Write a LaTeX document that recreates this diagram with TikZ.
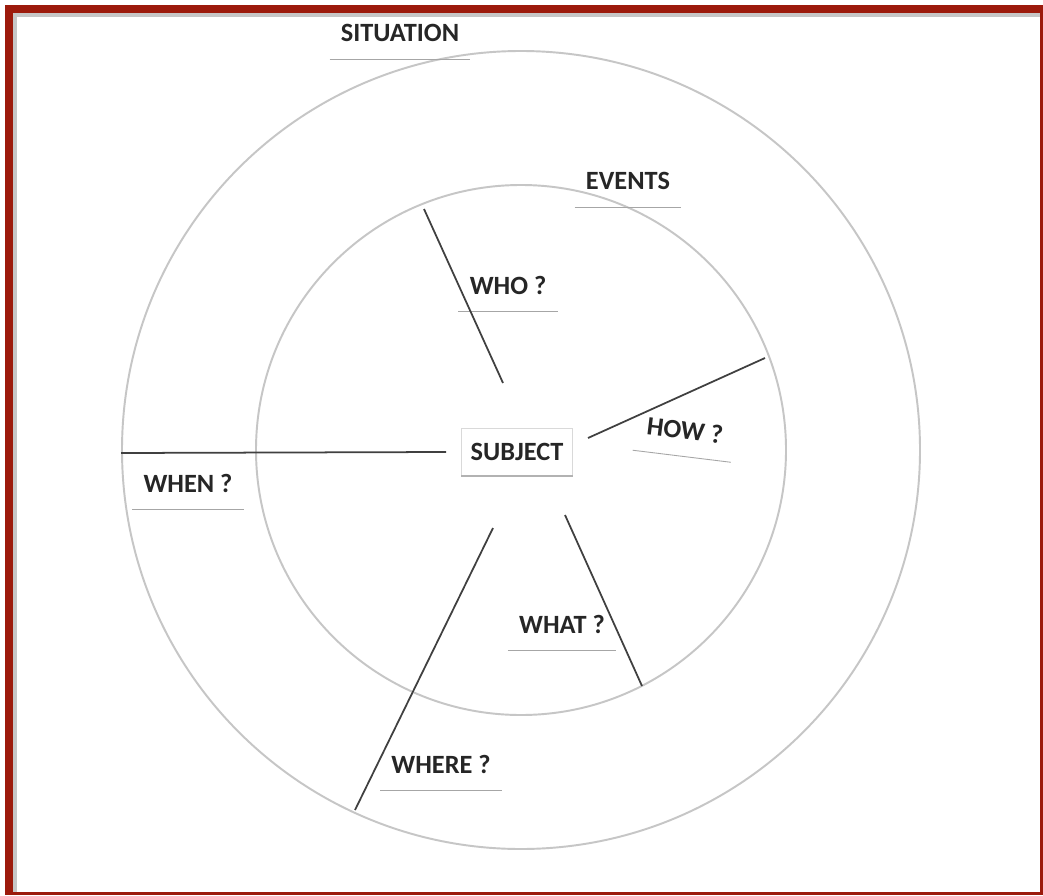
\documentclass[tikz,border=0pt]{standalone}
\usepackage{fontspec}
\setmainfont{Carlito}
\usepackage{xcolor}
\usepackage{tikz}
\usetikzlibrary{positioning,calc}
\definecolor{framered}{RGB}{156,26,12}

\begin{document}
\begin{tikzpicture}[
    x=0.02cm, y=-0.02cm,
    ring/.style={draw=gray!45, line width=1.1pt},
    spoke/.style={draw=black!75, line width=1pt},
    tag/.style={font=\bfseries\fontsize{15}{17}\selectfont, text=black!85,
                text depth=0pt, inner xsep=0.22cm, inner ysep=0.34cm},
    rule/.style={draw=gray!70, line width=0.5pt}
]
    \useasboundingbox (0,0) rectangle (1043,895);

    % frame
    \fill[framered] (5,5) rectangle (1043,895);
    \fill[gray!45] (13,13) rectangle (1040,892);
    \fill[white] (17,17) rectangle (1040,892);

    % rings
    \coordinate (c) at (521,450);
    \draw[ring] (c) circle[radius=399];
    \draw[ring] (c) circle[radius=265];

    % labels
    \node[tag] (sit) at (400,33) {SITUATION};
    \node[tag] (evt) at (628,181) {EVENTS};
    \node[tag] (who) at (508,285) {WHO ?};
    \node[tag, rotate=-7] (how) at (685,430) {HOW ?};
    \node[tag] (when) at (188,483) {WHEN ?};
    \node[tag] (what) at (562,624) {WHAT ?};
    \node[tag] (where) at (441,764) {WHERE ?};
    \node[tag, draw=gray!30, line width=0.4pt, inner xsep=0.18cm, inner ysep=0.3cm] (subj) at (517,452) {SUBJECT};

    \foreach \t in {sit,evt,who,how,when,what,where}
        \draw[rule] (\t.south west) -- (\t.south east);
    \draw[gray!60, line width=0.6pt] (subj.south west) -- (subj.south east);

    % spoke ends
    \coordinate (who-out) at (424,209);
    \coordinate (who-in) at (503,383);
    \coordinate (how-out) at (765,358);
    \coordinate (how-in) at (588,438);
    \coordinate (when-out) at (121,453);
    \coordinate (when-in) at (446,452);
    \coordinate (what-in) at (565,515);
    \coordinate (what-out) at (642,686);
    \coordinate (where-in) at (493,528);
    \coordinate (where-out) at (355,810);

    \draw[spoke] (who-in) -- (who-out);
    \draw[spoke] (how-in) -- (how-out);
    \draw[spoke] (when-in) -- (when-out);
    \draw[spoke] (what-in) -- (what-out);
    \draw[spoke] (where-in) -- (where-out);
\end{tikzpicture}
\end{document}
